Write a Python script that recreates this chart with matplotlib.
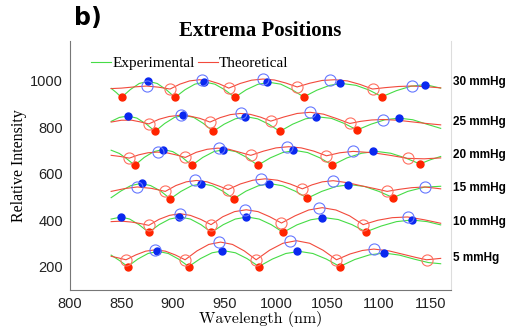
import numpy as np
import matplotlib
matplotlib.use("Agg")
import matplotlib.pyplot as plt
from matplotlib.lines import Line2D
from matplotlib.transforms import blended_transform_factory

# experimental (green) and theoretical (red) curves, (wavelength nm, intensity)
exp_30 = [(840, 967), (845, 949), (850, 928), (858.7, 962), (867.3, 988), (876, 997), (884.7, 988), (893.3, 962),
          (902, 928), (911.7, 961), (921.3, 985), (931, 994), (940.7, 985), (950.3, 961), (960, 928), (971.2, 961),
          (982.3, 984), (993.5, 993), (1004.7, 985), (1015.8, 961), (1027, 930), (1039.7, 959), (1052.3, 980),
          (1064, 988), (1077.7, 980), (1090.3, 960), (1103, 931), (1117, 957), (1131, 976), (1145, 983), (1160, 968)]
theo_30 = [(840, 966), (850, 968), (862, 973), (874.5, 977), (886, 972), (897.2, 964), (906.7, 985), (916.2, 999),
           (925.7, 1004), (935.2, 1000), (944.7, 987), (954.2, 968), (965.3, 988), (976.3, 1002), (987.4, 1007),
           (998.5, 1003), (1009.5, 990), (1020.6, 973), (1032.8, 989), (1045, 1001), (1057.2, 1004), (1069.4, 999),
           (1081.6, 984), (1093.8, 964), (1106, 970), (1119, 975), (1131.7, 977), (1146, 974), (1160, 969)]
exp_min_30 = [(850.2, 928), (902.3, 928), (960, 928), (1027, 930), (1102.9, 931)]
exp_max_30 = [(875.5, 997), (930, 994), (991.8, 993), (1062.7, 988), (1144.7, 983)]
theo_min_30 = [(897.2, 964), (954.2, 968), (1020.6, 973), (1093.8, 964)]
theo_max_30 = [(874.5, 977), (928, 1004), (987.9, 1007), (1053, 1004), (1131.7, 977)]

exp_25 = [(840, 825), (848, 842), (856.4, 848), (865, 839), (874, 814), (882.6, 782), (892, 816), (901.4, 842),
          (910.8, 851), (920.2, 842), (929.6, 816), (939, 782), (949.8, 813), (960.6, 836), (971.4, 845),
          (982.2, 836), (993, 813), (1003.8, 782), (1016.3, 813), (1028.8, 836), (1041.4, 844), (1053.9, 838),
          (1066.4, 816), (1078.9, 788), (1092.4, 813), (1105.9, 832), (1119.4, 839), (1132.9, 832), (1146.4, 813),
          (1160, 795)]
theo_25 = [(840, 822), (850, 830), (860, 830), (868, 823), (876.5, 814), (886.4, 834), (896.3, 846), (906.3, 851),
           (916.2, 848), (926.1, 838), (936, 822), (945.8, 841), (955.7, 854), (965.5, 859), (975.3, 855),
           (985.2, 843), (995, 826), (1007.8, 844), (1020.6, 859), (1033.4, 864), (1046.2, 856), (1059, 837),
           (1071.8, 816), (1082, 825), (1093, 831), (1104.2, 833), (1118, 830), (1132, 823), (1146, 816), (1160, 810)]
exp_min_25 = [(882.6, 782), (939, 782), (1003.8, 782), (1078.9, 788)]
exp_max_25 = [(856.4, 848), (910.1, 851), (969.7, 845), (1038.7, 844), (1119.4, 839)]
theo_min_25 = [(876.5, 814), (936, 822), (995, 826), (1071.8, 816)]
theo_max_25 = [(907.9, 851), (966.2, 859), (1033.5, 864), (1104.2, 833)]

exp_20 = [(840, 701), (848, 687), (855.5, 663), (862.9, 636), (872.1, 670), (881.4, 695), (890.6, 704), (899.8, 695),
          (909.1, 670), (918.3, 636), (929, 670), (939.7, 695), (950.4, 704), (961, 695), (971.7, 670), (982.4, 636),
          (994.5, 668), (1006.6, 691), (1018.7, 700), (1030.7, 691), (1042.8, 668), (1054.9, 637), (1069, 668),
          (1083.2, 688), (1097.4, 696), (1111.5, 688), (1125.7, 668), (1139.8, 642), (1150, 660), (1160, 674)]
theo_20 = [(840, 679), (849, 674), (857.6, 667), (866.7, 681), (875.7, 690), (884.8, 693), (893.9, 690), (902.9, 681),
           (912, 670), (922.6, 692), (933.2, 705), (943.8, 710), (954.4, 705), (965, 692), (975.6, 679), (987.9, 697),
           (1000.1, 711), (1012.4, 716), (1024.6, 711), (1036.9, 697), (1049.1, 677), (1062, 690), (1075, 696),
           (1094.5, 690), (1111, 679), (1127.8, 666), (1144, 664), (1160, 668)]
exp_min_20 = [(862.9, 636), (918.3, 636), (982.4, 636), (1054.9, 637), (1139.8, 642)]
exp_max_20 = [(890, 704), (949, 704), (1016.4, 700), (1094.5, 696)]
theo_min_20 = [(857.6, 667), (912, 670), (975.6, 679), (1049.1, 677), (1127.8, 666)]
theo_max_20 = [(885.2, 693), (944.5, 710), (1010.9, 716), (1075, 696)]

exp_15 = [(840, 497), (849.6, 526), (859.2, 549), (868.8, 558), (878.3, 549), (887.9, 526), (897.5, 492),
          (907.8, 524), (918, 548), (928.3, 557), (938.5, 548), (948.8, 524), (959, 492), (970.9, 525), (982.9, 548),
          (994.8, 557), (1006.7, 548), (1018.7, 525), (1030.6, 495), (1044.5, 524), (1058.4, 545), (1072.3, 553),
          (1086.1, 545), (1100, 524), (1113.9, 497), (1128, 524), (1144, 542), (1160, 546)]
theo_15 = [(840, 524), (853, 536), (865.4, 543), (879, 537), (892.6, 524), (902.8, 549), (912.9, 565), (923.1, 571),
           (933.2, 565), (943.4, 549), (953.5, 532), (965.5, 556), (977.6, 572), (989.6, 578), (1001.6, 572),
           (1013.7, 556), (1025.7, 535), (1035, 552), (1045, 565), (1055.6, 570), (1070, 561), (1083, 548),
           (1096, 536), (1108, 524), (1120, 533), (1132, 540), (1144.7, 543), (1160, 535)]
exp_min_15 = [(897.5, 492), (959, 492), (1030.6, 495), (1113.9, 497)]
exp_max_15 = [(869.6, 558), (927.6, 557), (993.4, 557), (1069.8, 553)]
theo_min_15 = [(892.6, 524), (953.5, 532), (1025.7, 535), (1108, 524)]
theo_max_15 = [(865.4, 543), (921.8, 571), (985.9, 578), (1055.6, 570), (1144.7, 543)]

exp_10 = [(840, 405), (849.6, 414), (858, 405), (867, 381), (876.5, 348), (886.6, 381), (896.8, 405), (906.9, 414),
          (917, 405), (927.2, 381), (937.3, 348), (948.9, 381), (960.5, 405), (972.2, 414), (983.8, 405),
          (995.4, 381), (1007, 348), (1020.4, 380), (1033.8, 402), (1047.2, 411), (1060.5, 403), (1073.9, 381),
          (1087.3, 350), (1102.2, 375), (1117.1, 394), (1132, 401), (1146.9, 394), (1160, 380)]
theo_10 = [(840, 394), (850, 396), (860, 392), (868, 386), (876.5, 378), (886.6, 404), (896.7, 421), (906.8, 428),
           (916.8, 421), (926.9, 404), (937, 381), (948.4, 415), (959.8, 437), (971.2, 445), (982.6, 437), (994, 415),
           (1005.4, 388), (1018.6, 419), (1031.8, 444), (1045, 454), (1058.3, 444), (1071.5, 419), (1084.7, 381),
           (1099, 400), (1113, 411), (1127.8, 414), (1144, 402), (1160, 387)]
exp_min_10 = [(876.5, 348), (937.3, 348), (1007, 348), (1087.3, 350)]
exp_max_10 = [(849.6, 414), (905.6, 414), (971, 414), (1044.9, 411), (1132, 401)]
theo_min_10 = [(876.5, 378), (937, 381), (1005.4, 388), (1084.7, 381)]
theo_max_10 = [(906.9, 428), (969.7, 445), (1041.6, 454), (1127.8, 414)]

exp_5 = [(840, 250), (848, 227), (856, 201), (865.9, 233), (875.8, 257), (885.7, 266), (895.5, 257), (905.4, 233),
         (915.3, 201), (926.7, 235), (938, 260), (949.4, 269), (960.7, 260), (972, 235), (983.4, 201), (996.5, 233),
         (1009.6, 257), (1022.8, 266), (1035.9, 257), (1049, 233), (1062.1, 201), (1076.5, 231), (1090.8, 251),
         (1105.2, 259), (1120, 250), (1135, 232), (1148, 218), (1160, 213)]
theo_5 = [(840, 245), (847, 238), (854.4, 230), (864, 251), (873.5, 267), (883.1, 273), (892.7, 267), (902.2, 251),
          (911.8, 230), (923.3, 268), (934.8, 296), (946.3, 306), (957.8, 296), (969.3, 268), (980.8, 230),
          (993.8, 271), (1006.8, 301), (1019.8, 312), (1032.8, 301), (1045.8, 271), (1058.8, 230), (1072, 255),
          (1084, 270), (1095.1, 276), (1110, 268), (1124, 253), (1136, 240), (1146.3, 230), (1160, 236)]
exp_min_5 = [(856, 201), (915.3, 201), (983.4, 201), (1062.1, 201)]
exp_max_5 = [(884.5, 266), (947.7, 269), (1020.6, 266), (1105.2, 259)]
theo_min_5 = [(854.4, 230), (911.8, 230), (980.8, 230), (1058.8, 230), (1146.3, 230)]
theo_max_5 = [(882.9, 273), (944.5, 306), (1014.1, 312), (1095.1, 276)]

band_labels = ["30 mmHg", "25 mmHg", "20 mmHg", "15 mmHg", "10 mmHg", "5 mmHg"]
band_label_y = [995, 823, 682, 540, 393, 239]

bands = [
    (exp_30, theo_30, exp_min_30, exp_max_30, theo_min_30, theo_max_30),
    (exp_25, theo_25, exp_min_25, exp_max_25, theo_min_25, theo_max_25),
    (exp_20, theo_20, exp_min_20, exp_max_20, theo_min_20, theo_max_20),
    (exp_15, theo_15, exp_min_15, exp_max_15, theo_min_15, theo_max_15),
    (exp_10, theo_10, exp_min_10, exp_max_10, theo_min_10, theo_max_10),
    (exp_5, theo_5, exp_min_5, exp_max_5, theo_min_5, theo_max_5),
]

GREEN = "#46dc46"
RED = "#f24a3c"
RED_DOT = "#ff2400"
BLUE_DOT = "#0a28f0"
RED_RING = "#ff7060"
BLUE_RING = "#6678ff"

fig = plt.figure(figsize=(5.07, 3.29), dpi=100)
ax = fig.add_axes([0.138, 0.1185, 0.7515, 0.7565])

for exp, theo, emin, emax, tmin, tmax in bands:
    e = np.array(exp)
    t = np.array(theo)
    ax.plot(e[:, 0], e[:, 1], color=GREEN, lw=0.8, zorder=2)
    ax.plot(t[:, 0], t[:, 1], color=RED, lw=0.8, zorder=3)
    for pts, col in ((emin, RED_DOT), (emax, BLUE_DOT)):
        p = np.array(pts)
        ax.plot(p[:, 0], p[:, 1], 'o', color=col, ms=5, mec=col, zorder=4)
    for pts, col in ((tmin, RED_RING), (tmax, BLUE_RING)):
        p = np.array(pts)
        ax.plot(p[:, 0], p[:, 1], 'o', mfc='none', mec=col, ms=8, mew=0.8, zorder=5)

ax.set_xlim(800, 1170)
ax.set_ylim(100, 1170)
ax.set_xticks([800, 850, 900, 950, 1000, 1050, 1100, 1150])
ax.set_yticks([200, 400, 600, 800, 1000])
ax.tick_params(length=0, labelsize=10.5, colors="#222222", pad=5)
for lab in ax.get_xticklabels() + ax.get_yticklabels():
    lab.set_family("Liberation Sans")
ax.spines["top"].set_visible(False)
ax.spines["left"].set_color("#777777")
ax.spines["bottom"].set_color("#777777")
ax.spines["right"].set_color("#dddddd")

ax.set_xlabel("Wavelength (nm)", family="cmr10", fontsize=11.5, labelpad=0)
ax.set_ylabel("Relative Intensity", family="Liberation Serif", fontsize=11.5, labelpad=2)
ax.set_title("Extrema Positions", family="Liberation Serif", fontweight="bold", fontsize=15, pad=4)
fig.text(0.145, 0.945, "b)", family="DejaVu Sans", fontweight="bold", fontsize=17, va="center")

tr = blended_transform_factory(ax.transAxes, ax.transData)
for lab, yv in zip(band_labels, band_label_y):
    ax.text(1.005, yv, lab, transform=tr, family="Liberation Sans", fontweight="bold",
            fontsize=8.5, va="center", ha="left")

handles = [Line2D([], [], color=GREEN, lw=0.8), Line2D([], [], color=RED, lw=0.8)]
ax.legend(handles, ["Experimental", "Theoretical"], loc="center left", bbox_to_anchor=(0.055, 0.912),
          ncol=2, frameon=False, prop={"family": "Liberation Serif", "size": 11},
          handlelength=1.3, handletextpad=0.1, columnspacing=0.2, borderpad=0, borderaxespad=0)

fig.savefig("out.png", dpi=100)
